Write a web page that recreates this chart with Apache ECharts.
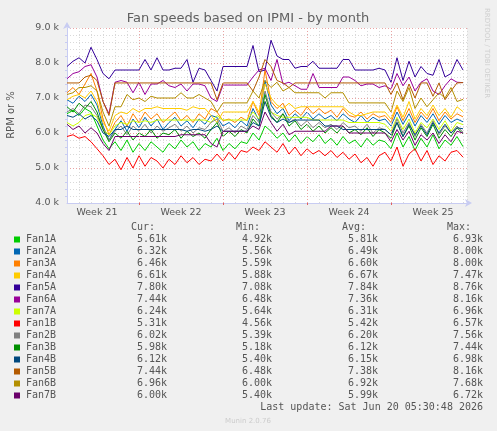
<!DOCTYPE html>
<html>
<head>
<meta charset="utf-8">
<script src="https://cdn.jsdelivr.net/npm/echarts@6/dist/echarts.min.js"></script>
<style>
  html, body { margin: 0; padding: 0; background: #f0f0f0; }
  #chart { width: 497px; height: 431px; }
</style>
</head>
<body>
<div id="chart"></div>
<script>
// fan names + munin colours
const fanNames = ["Fan1A", "Fan2A", "Fan3A", "Fan4A", "Fan5A", "Fan6A", "Fan7A",
  "Fan1B", "Fan2B", "Fan3B", "Fan4B", "Fan5B", "Fan6B", "Fan7B"];
const fanColors = ["#00cc00", "#0066b3", "#ff8000", "#ffcc00", "#330099", "#990099", "#ccff00",
  "#ff0000", "#808080", "#008f00", "#00487d", "#b35a00", "#b38f00", "#6b006b"];

// one sample every half day, values in k RPM
const fan1A = [6.55,6.65,6.5,6.7,6.6,6.2,5.8,5.55,5.75,5.5, 5.8,5.45,5.7,5.5,5.75,5.6,5.45,5.7,5.55,5.8,
  5.6,5.75,5.5,5.7,5.6,5.85,5.5,5.7,5.55,5.75, 5.7,6.0,5.8,6.2,6.05,5.85,6.0,5.75,5.95,5.7,
  5.9,5.75,5.95,5.7,5.85,5.65,5.9,5.7,5.8,5.6, 5.85,5.65,5.8,5.75,5.55,6.0,5.6,5.9,5.5,5.85,
  5.6,5.95,5.55,5.8,5.65,5.9,5.61];
const fan2A = [6.95,6.85,7.05,6.9,7.1,6.8,6.2,5.8,6.1,6.35, 6.05,6.4,6.15,6.45,6.2,6.4,6.1,6.3,6.45,6.2,
  6.35,6.15,6.4,6.25,6.5,6.45,6.2,6.3,6.15,6.35, 6.2,6.7,6.35,7.5,6.8,6.55,6.7,6.35,6.55,6.4,
  6.6,6.4,6.55,6.4,6.5,6.35,6.55,6.4,6.3,6.5, 6.3,6.45,6.35,6.4,6.2,6.6,6.25,6.55,6.2,6.5,
  6.3,6.55,6.25,6.5,6.3,6.4,6.32];
const fan3A = [7.15,7.3,7.1,7.4,7.7,7.2,6.4,5.95,6.3,6.5, 6.2,6.55,6.3,6.6,6.4,6.55,6.3,6.45,6.6,6.35,
  6.5,6.3,6.55,6.4,6.7,6.6,6.35,6.4,6.3,6.45, 6.35,6.9,6.5,7.8,6.9,6.7,6.85,6.5,6.65,6.5,
  6.75,6.55,6.7,6.55,6.65,6.45,6.7,6.5,6.45,6.6, 6.4,6.55,6.45,6.5,6.3,6.75,6.35,6.7,6.3,6.6,
  6.4,6.7,6.35,6.6,6.4,6.55,6.46];
const fan4A = [6.95,7.05,7.1,7.0,7.2,6.9,6.3,6.05,6.5,6.6, 6.55,6.7,6.6,6.7,6.7,6.75,6.7,6.7,6.7,6.7,
  6.65,6.75,6.7,6.7,6.5,6.3,6.6,6.6,6.6,6.6, 6.6,6.9,6.6,7.4,7.0,6.8,6.7,6.85,6.7,6.75,
  6.75,6.75,6.75,6.75,6.75,6.75,6.75,6.6,6.5,6.5, 6.55,6.6,6.6,6.6,6.4,6.8,6.45,6.9,6.4,6.7,
  6.5,6.8,6.5,6.7,6.45,6.75,6.61];
const fan5A = [7.9,8.05,8.15,8.0,8.45,8.1,7.7,7.55,7.8,7.8, 7.8,7.8,7.8,8.1,7.8,8.15,7.8,7.8,7.85,7.85,
  8.1,7.45,7.85,7.8,7.5,7.2,7.9,7.9,7.9,7.9, 7.9,8.5,7.75,7.8,8.65,8.2,8.1,8.1,7.85,7.9,
  7.9,8.05,7.85,7.85,7.85,7.85,8.1,8.1,7.8,7.8, 7.8,7.8,7.85,7.8,7.45,8.15,7.5,8.05,7.6,7.9,
  7.7,7.65,8.1,7.6,7.7,8.1,7.8];
const fan6A = [7.55,7.7,7.75,7.9,7.95,7.6,6.9,6.55,7.45,7.5, 7.45,7.15,7.45,7.1,7.4,7.4,7.5,7.35,7.3,7.4,
  7.2,7.4,7.4,7.35,7.0,6.9,7.37,7.37,7.37,7.37, 7.37,7.6,7.8,7.85,7.5,8.1,7.4,7.45,7.35,7.25,
  7.25,7.7,7.3,7.3,7.3,7.3,7.6,7.6,7.5,7.35, 7.4,7.4,7.3,7.35,7.25,7.7,7.35,7.6,7.2,7.45,
  7.55,7.2,7.1,7.35,7.55,7.45,7.44];
const fan7A = [6.3,6.2,6.3,6.5,6.55,6.45,6.1,5.95,6.2,6.3, 6.25,6.35,6.3,6.35,6.3,6.37,6.37,6.37,6.37,6.37,
  6.37,6.37,6.37,6.37,6.3,6.5,6.37,6.37,6.37,6.37, 6.37,6.6,6.4,6.9,6.6,6.5,6.45,6.45,6.45,6.45,
  6.45,6.37,6.37,6.37,6.37,6.37,6.37,6.3,6.3,6.3, 6.3,6.3,6.3,6.25,6.05,6.45,6.1,6.4,6.0,6.3,
  6.15,6.4,6.1,6.35,6.05,6.3,6.24];
const fan1B = [5.9,5.95,5.85,5.9,5.75,5.55,5.35,5.1,5.25,4.95, 5.3,5.0,5.35,5.05,5.3,5.2,5.0,5.25,5.1,5.35,
  5.15,5.3,5.1,5.25,5.2,5.4,5.2,5.45,5.25,5.5, 5.45,5.6,5.5,5.75,5.6,5.45,5.7,5.4,5.6,5.35,
  5.55,5.4,5.5,5.35,5.5,5.3,5.45,5.25,5.4,5.15, 5.3,5.05,5.35,5.45,5.2,5.6,5.05,5.4,5.55,5.2,
  5.5,5.1,5.35,5.2,5.45,5.5,5.31];
const fan2B = [6.6,6.7,6.55,6.8,6.75,6.5,6.15,5.8,6.05,6.2, 5.95,6.2,6.05,6.25,6.0,6.2,6.05,6.15,6.25,6.05,
  6.2,6.0,6.15,6.1,6.3,6.4,6.05,6.15,6.0,6.2, 6.1,6.5,6.3,7.2,6.6,6.4,6.55,6.3,6.4,6.2,
  6.35,6.15,6.3,6.15,6.25,6.1,6.3,6.15,6.2,6.05, 6.25,6.0,6.15,6.1,5.95,6.4,6.0,6.3,5.9,6.25,
  6.0,6.35,5.95,6.2,6.0,6.2,6.02];
const fan3B = [6.75,6.6,6.85,6.7,6.9,6.6,6.1,5.75,6.0,5.85, 6.05,5.8,6.0,5.9,6.1,5.85,6.0,5.95,6.1,5.85,
  6.05,5.9,6.0,5.85,6.1,6.3,5.9,6.05,5.9,6.1, 6.0,6.4,6.2,7.1,6.5,6.3,6.55,6.2,6.35,6.1,
  6.25,6.05,6.2,6.0,6.15,6.0,6.2,6.0,6.1,5.95, 6.15,5.9,6.1,6.0,5.85,6.3,5.9,6.2,5.8,6.15,
  5.9,6.25,5.85,6.1,5.9,6.15,5.98];
const fan4B = [6.5,6.45,6.55,6.4,6.5,6.35,6.0,5.9,6.1,6.1, 6.2,6.1,6.1,6.1,6.1,6.1,6.1,6.1,6.1,6.1,
  6.05,6.1,6.1,6.05,6.1,6.2,6.05,6.05,6.05,6.05, 6.05,6.3,6.2,6.9,6.45,6.3,6.4,6.3,6.37,6.37,
  6.37,6.37,6.37,6.2,6.2,6.2,6.1,6.1,6.1,6.1, 6.1,6.1,6.1,6.1,5.95,6.3,5.9,6.25,5.95,6.2,
  5.95,6.3,6.0,6.25,6.0,6.15,6.12];
const fan5B = [7.43,7.43,7.43,7.6,7.65,7.5,6.9,6.5,7.43,7.43, 7.43,7.43,7.43,7.43,7.43,7.43,7.43,7.43,7.43,7.43,
  7.43,7.43,7.43,7.43,7.43,6.95,7.43,7.43,7.43,7.43, 7.43,7.2,7.6,8.1,7.9,7.5,7.43,7.3,7.43,7.43,
  7.43,7.43,7.43,7.43,7.43,7.43,7.43,7.43,7.43,7.43, 7.43,7.43,7.43,7.43,7.1,7.43,6.95,7.4,7.0,7.43,
  7.43,7.05,7.43,6.95,7.2,7.43,7.44];
const fan6B = [7.1,7.15,7.3,7.3,7.35,7.2,6.6,6.2,6.75,6.75, 7.1,6.95,7.0,6.9,7.05,7.0,7.0,7.0,7.0,7.15,
  7.0,7.0,7.1,7.0,6.9,6.6,6.86,6.86,6.86,6.86, 6.86,7.2,7.0,7.5,7.3,7.45,7.2,7.3,7.15,7.15,
  7.15,7.15,7.15,7.0,7.15,7.15,7.15,6.86,6.86,6.86, 6.86,6.86,6.86,6.86,6.6,7.2,6.9,7.3,6.7,7.0,
  6.75,6.95,7.15,7.0,7.3,6.9,6.96];
const fan7B = [6.25,6.1,6.2,6.0,6.15,6.0,5.7,5.5,5.9,5.9, 5.9,5.9,5.9,5.9,5.9,5.9,5.9,5.9,5.9,5.95,
  5.95,5.95,5.95,5.95,5.7,5.6,6.05,6.05,6.05,6.05, 6.05,6.2,6.1,6.6,6.3,6.05,6.25,5.95,6.05,6.05,
  6.05,6.05,6.05,6.05,6.2,6.2,6.2,6.0,6.0,6.0, 6.0,6.0,6.0,6.0,5.75,6.1,5.8,6.05,5.65,5.95,
  5.8,6.0,5.7,5.95,5.75,6.05,6.0];

const fanValues = [fan1A, fan2A, fan3A, fan4A, fan5A, fan6A, fan7A,
  fan1B, fan2B, fan3B, fan4B, fan5B, fan6B, fan7B];

// legend stats as printed by munin
const curVals = ["5.61k","6.32k","6.46k","6.61k","7.80k","7.44k","6.24k","5.31k","6.02k","5.98k","6.12k","7.44k","6.96k","6.00k"];
const minVals = ["4.92k","5.56k","5.59k","5.88k","7.08k","6.48k","5.64k","4.56k","5.39k","5.18k","5.40k","6.48k","6.00k","5.40k"];
const avgVals = ["5.81k","6.49k","6.60k","6.67k","7.84k","7.36k","6.31k","5.42k","6.20k","6.12k","6.15k","7.38k","6.92k","5.99k"];
const maxVals = ["6.93k","8.00k","8.00k","7.47k","8.76k","8.16k","6.96k","6.57k","7.56k","7.44k","6.98k","8.16k","7.68k","6.72k"];

// x axis in days from the left edge of the graph
const weekLabels = ["Week 21", "Week 22", "Week 23", "Week 24", "Week 25"];
const weekMids = [2.5, 9.5, 16.5, 23.5, 30.5];
const weekEdges = [6, 13, 20, 27];
const xMax = 400 / 12;
const stepDays = 0.5;

const chart = echarts.init(document.getElementById("chart"), null, { renderer: "canvas" });

const axisCol = "#c8ccf2";
const minorGrid = "#d9d9d9";
const majorGrid = "#eaa3a3";
const txt = "#555555";

const series = fanNames.map((name, k) => ({
  name: name,
  type: "line",
  xAxisIndex: 0,
  z: 3,
  showSymbol: false,
  symbol: "none",
  animation: false,
  color: fanColors[k],
  lineStyle: { width: 1, color: fanColors[k] },
  data: fanValues[k].map((v, i) => [i * stepDays, v]),
}));

// red week separators, drawn under the fan lines
series.unshift({
  type: "line",
  z: 1,
  data: [],
  silent: true,
  markLine: {
    silent: true,
    symbol: "none",
    animation: false,
    label: { show: false },
    lineStyle: { color: majorGrid, type: [1, 2], width: 1 },
    data: weekEdges.map((d) => ({ xAxis: d })),
  },
});

// legend / stats block
const graphic = [];
const mono = '10px "DejaVu Sans Mono"';
function label(x, y, text, align, font, fill, rotation) {
  graphic.push({
    type: "text", x: x, y: y, rotation: rotation || 0, silent: true,
    style: { text: text, font: font || mono, fill: fill || txt,
      align: align, textAlign: align, verticalAlign: "middle", textVerticalAlign: "middle" },
  });
}
label(248, 19, "Fan speeds based on IPMI - by month", "center", '13px "DejaVu Sans"', "#606060");
label(11, 115, "RPM or %", "center", '10px "DejaVu Sans"', txt, Math.PI / 2);
label(487, 53, "RRDTOOL / TOBI OETIKER", "center", '7px "DejaVu Sans"', "#cfcfcf", -Math.PI / 2);

label(155, 227, "Cur:", "right");
label(260, 227, "Min:", "right");
label(366, 227, "Avg:", "right");
label(471, 227, "Max:", "right");
fanNames.forEach((name, k) => {
  const y = 239.5 + k * 12;
  graphic.push({ type: "rect", silent: true, shape: { x: 14, y: y - 3, width: 6, height: 6 },
    style: { fill: fanColors[k] } });
  label(26, y, name, "left");
  label(167, y, curVals[k], "right");
  label(272, y, minVals[k], "right");
  label(378, y, avgVals[k], "right");
  label(483, y, maxVals[k], "right");
});
label(483, 407, "Last update: Sat Jun 20 05:30:48 2026", "right");
label(248, 421, "Munin 2.0.76", "center", '7px "DejaVu Sans"', "#cccccc");

const option = {
  backgroundColor: "#f0f0f0",
  animation: false,
  grid: { left: 67, top: 28, width: 400, height: 175, show: true, backgroundColor: "#ffffff", borderWidth: 0 },
  xAxis: [
    {
      type: "value", min: 0, max: xMax, interval: 1,
      axisLine: { show: true, onZero: false, lineStyle: { color: axisCol },
        symbol: ["none", "arrow"], symbolSize: [6, 7], symbolOffset: [0, 5] },
      axisTick: { show: false },
      axisLabel: { show: false },
      splitLine: { show: true, lineStyle: { color: minorGrid, type: [1, 2] } },
    },
    {
      type: "value", min: 0, max: xMax, position: "bottom",
      axisLine: { show: false },
      axisTick: { show: true, customValues: weekEdges, length: 2, lineStyle: { color: "#e06060" } },
      axisLabel: {
        customValues: weekMids, color: txt, fontSize: 9.5, fontFamily: "DejaVu Sans", margin: 5,
        formatter: (v) => weekLabels[weekMids.indexOf(v)] || "",
      },
      splitLine: { show: false },
    },
  ],
  yAxis: {
    type: "value", min: 4, max: 9, interval: 1,
    axisLine: { show: true, lineStyle: { color: axisCol },
      symbol: ["none", "arrow"], symbolSize: [6, 7], symbolOffset: [0, 6] },
    axisTick: { show: false },
    minorTick: { show: true, splitNumber: 5, length: 2, lineStyle: { color: axisCol } },
    axisLabel: { color: txt, fontSize: 9.5, fontFamily: "DejaVu Sans", margin: 8,
      formatter: (v) => v.toFixed(1) + " k" },
    splitLine: { show: true, lineStyle: { color: majorGrid, type: [1, 2] } },
    minorSplitLine: { show: true, lineStyle: { color: minorGrid, type: [1, 2] } },
  },
  series: series,
  graphic: graphic,
};

chart.setOption(option);
</script>
</body>
</html>
